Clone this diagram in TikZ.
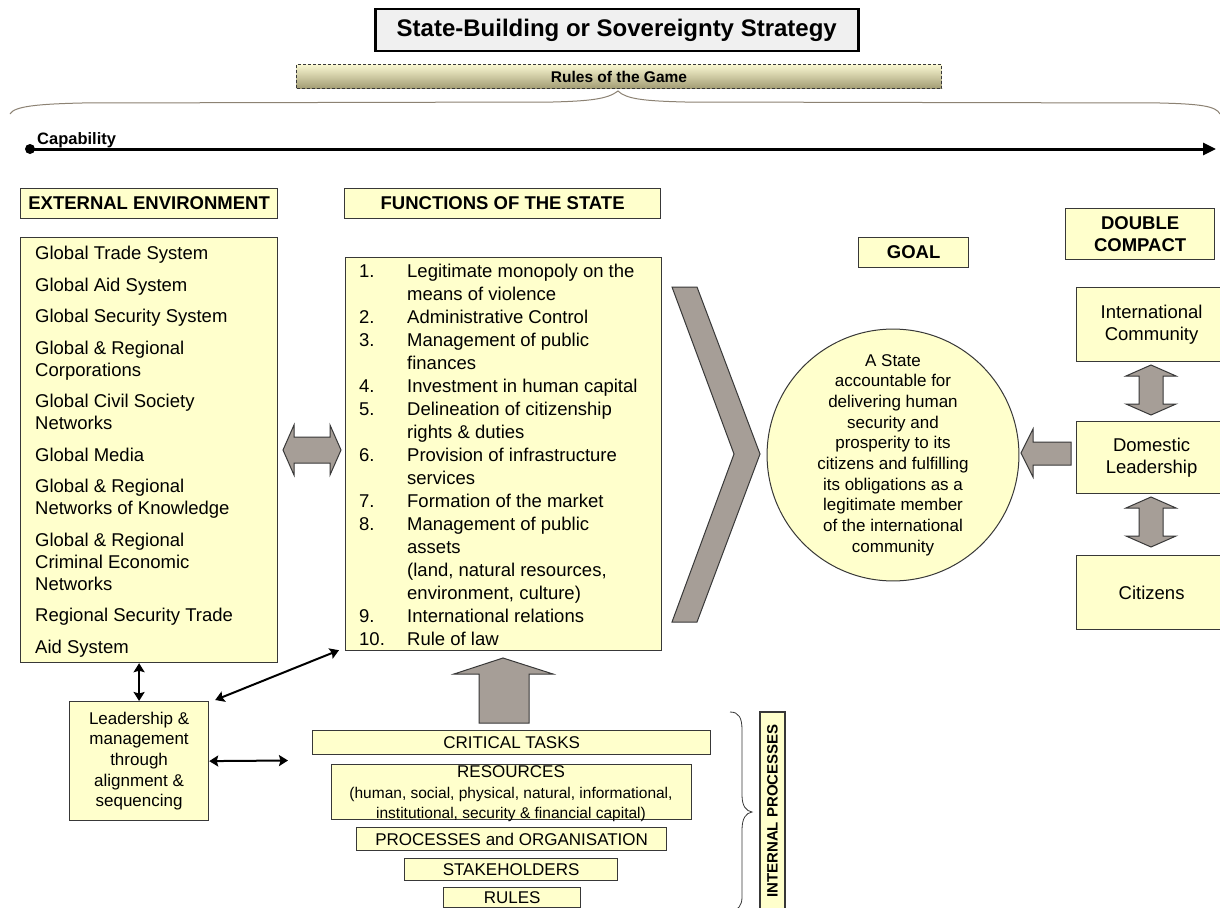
\documentclass[tikz,border=0pt]{standalone}
\usepackage{fontspec}
\setmainfont{Liberation Sans}
\usetikzlibrary{arrows.meta,calc}
\definecolor{lyel}{HTML}{FFFFCC}
\definecolor{bord}{HTML}{383838}
\definecolor{taupe}{HTML}{A69E97}
\definecolor{brc}{HTML}{8C8273}
\definecolor{tgray}{HTML}{F0F0F0}
\definecolor{rtop}{HTML}{F9F7D2}
\definecolor{rbot}{HTML}{A29C73}
\newcommand\fs[2]{\fontsize{#1pt}{#2pt}\selectfont}
\begin{document}
\begin{tikzpicture}[x=1pt,y=-1pt,
  ybox/.style={draw=bord, fill=lyel, line width=1.2pt, inner sep=0pt, anchor=north west},
  hdr/.style={font=\fs{18.5}{22}\bfseries},
  body/.style={font=\fs{18.5}{22}},
  small/.style={font=\fs{17}{20.7}},
  garrow/.style={draw=bord, fill=taupe, line width=1pt, line join=miter},
  blk/.style={line width=2pt, {Stealth[length=9pt,width=11pt,inset=1.5pt]}-{Stealth[length=9pt,width=11pt,inset=1.5pt]}},
]
\fill[white] (0,0) rectangle (1220,907);
\useasboundingbox (0,0) rectangle (1220,907);

% title and rules
\node[draw=black, fill=tgray, line width=2.5pt, minimum width=483pt, minimum height=42pt,
  anchor=north west, inner sep=0, font=\fs{24}{28}\bfseries] (title) at (374,8) {State-Building or Sovereignty Strategy};
\node[draw=bord, dash pattern=on 3pt off 2pt, line width=1pt, top color=rtop, bottom color=rbot,
  minimum width=645pt, minimum height=24pt, anchor=north west, inner sep=0,
  font=\fs{15.5}{18}\bfseries] (rules) at (296,64) {Rules of the Game};
\draw[brc, line width=1pt] (10,114) .. controls (14,106) and (40,104) .. (82,103) -- (553,102)
  .. controls (590,101) and (608,99) .. ($(rules.south)+(-1,2)$)
  .. controls (626,99) and (644,101) .. (685,102) -- (1160,103)
  .. controls (1200,104) and (1216,106) .. (1220,114);

% capability
\coordinate (capS) at (30,149);
\coordinate (capE) at (1216,149);
\draw[line width=3pt, -{Triangle[length=13pt,width=12pt]}] (capS) -- (capE);
\fill (capS) circle (5pt);
\node[anchor=base west, inner sep=0, font=\fs{16.5}{20}\bfseries] (caplbl) at (37,144) {Capability};

% headers
\node[ybox, hdr, minimum width=257pt, minimum height=30pt] (exthdr) at (20,188) {EXTERNAL ENVIRONMENT};
\node[ybox, hdr, minimum width=316pt, minimum height=30pt] (fnhdr) at (344,188) {FUNCTIONS OF THE STATE};
\node[ybox, hdr, minimum width=110pt, minimum height=30pt] (goalhdr) at (858,237) {GOAL};
\node[ybox, hdr, align=center, minimum width=149pt, minimum height=51pt] (dchdr) at (1065,208) {DOUBLE\\COMPACT};

% external environment
\node[ybox, minimum width=257pt, minimum height=425pt] (ext) at (20,237) {};
\node[anchor=north west, inner sep=0, align=left, body] (exttxt) at (35,246.3) {Global Trade System\\[9.5pt]
Global Aid System\\[9.5pt]
Global Security System\\[9.5pt]
Global \& Regional\\Corporations\\[9.5pt]
Global Civil Society\\Networks\\[9.5pt]
Global Media\\[9.5pt]
Global \& Regional\\Networks of Knowledge\\[9.5pt]
Global \& Regional\\Criminal Economic\\Networks\\[9.5pt]
Regional Security Trade\\[9.5pt]
Aid System};

% functions of the state
\node[ybox, minimum width=316pt, minimum height=393pt] (fn) at (345,257) {};
\node[anchor=north west, inner sep=0, font=\fs{18.5}{23}] (fntxt) at (359,261.6) {%
\begin{tabular}{@{}p{48pt}@{}l@{}}
1. & Legitimate monopoly on the\\
 & means of violence\\
2. & Administrative Control\\
3. & Management of public\\
 & finances\\
4. & Investment in human capital\\
5. & Delineation of citizenship\\
 & rights \& duties\\
6. & Provision of infrastructure\\
 & services\\
7. & Formation of the market\\
8. & Management of public\\
 & assets\\
 & (land, natural resources,\\
 & environment, culture)\\
9. & International relations\\
10. & Rule of law
\end{tabular}};

% gray arrows
\draw[garrow] (283,450) -- (294,425) -- (294,437) -- (330,437) -- (330,425) -- (341,450)
  -- (330,475) -- (330,463) -- (294,463) -- (294,475) -- cycle;
\draw[garrow] (672,287) -- (697,287) -- (760,454) -- (697,622) -- (672,622) -- (734,454) -- cycle;

% goal circle
\node[circle, draw=bord, fill=lyel, line width=1pt, minimum size=244pt, inner sep=0, align=center, small]
  (goal) at (893,455) {A State\\accountable for\\delivering human\\security and\\prosperity to its\\citizens and fulfilling\\its obligations as a\\legitimate member\\of the international\\community};

% double compact
\node[ybox, body, align=center, minimum width=150pt, minimum height=74pt] (intl) at (1076,287) {International\\Community};
\node[ybox, body, align=center, minimum width=150pt, minimum height=72pt] (dom) at (1076,421) {Domestic\\Leadership};
\node[ybox, body, minimum width=150pt, minimum height=74pt] (cit) at (1076,555) {Citizens};
\draw[garrow] (1151,365) -- (1176,376) -- (1163,376) -- (1163,404) -- (1176,404) -- (1151,415)
  -- (1126,404) -- (1139,404) -- (1139,376) -- (1126,376) -- cycle;
\draw[garrow] (1151,497) -- (1176,508) -- (1163,508) -- (1163,536) -- (1176,536) -- (1151,547)
  -- (1126,536) -- (1139,536) -- (1139,508) -- (1126,508) -- cycle;
\draw[garrow] (1021,453) -- (1033,429) -- (1033,442) -- (1071,442) -- (1071,465) -- (1033,465)
  -- (1033,477) -- cycle;

% leadership
\node[ybox, small, align=center, minimum width=139pt, minimum height=119pt] (lead) at (69,701)
  {Leadership \&\\management\\through\\alignment \&\\sequencing};
\draw[blk] (lead.north |- ext.south) -- (lead.north);
\draw[blk] ($(lead.north east)+(6,-1)$) -- ($(fn.south west)+(-6,-1)$);
\coordinate (hend) at (288,760.5);
\draw[blk] (lead.east) -- (hend);

% up arrow
\draw[garrow] (503,658) -- (553,674) -- (529,674) -- (529,723) -- (479,723) -- (479,674) -- (454,674) -- cycle;

% internal processes stack
\node[ybox, small, minimum width=398pt, minimum height=24pt] (crit) at (312,730) {CRITICAL TASKS};
\node[ybox, minimum width=360pt, minimum height=55pt] (res) at (331,764) {};
\node[inner sep=0, anchor=center, font=\fs{15.5}{20.5}] (restxt) at (511,794) {%
\begin{tabular}{@{}c@{}}
\fs{17}{20.5}RESOURCES\\
(human, social, physical, natural, informational,\\
institutional, security \& financial capital)
\end{tabular}};
\node[ybox, small, minimum width=310pt, minimum height=23pt] (proc) at (356,827) {PROCESSES and ORGANISATION};
\node[ybox, small, minimum width=213pt, minimum height=22pt] (stake) at (404,858) {STAKEHOLDERS};
\node[ybox, small, minimum width=137pt, minimum height=20pt] (rul) at (443,887) {RULES};

\draw[bord, line width=0.8pt] (730,712) .. controls (739,712) and (742,718) .. (742,730) -- (742,795)
  .. controls (742,806) and (746,811) .. (752,812) .. controls (746,813) and (742,818) .. (742,830)
  -- (742,897) .. controls (742,906) and (738,910) .. (730,912);
\node[draw=bord, fill=lyel, line width=1.2pt, rotate=90, anchor=center, inner sep=0,
  minimum width=198pt, minimum height=25pt, font=\fs{15}{18}\bfseries] (ip) at (772.5,811) {INTERNAL PROCESSES};
\end{tikzpicture}
\end{document}
